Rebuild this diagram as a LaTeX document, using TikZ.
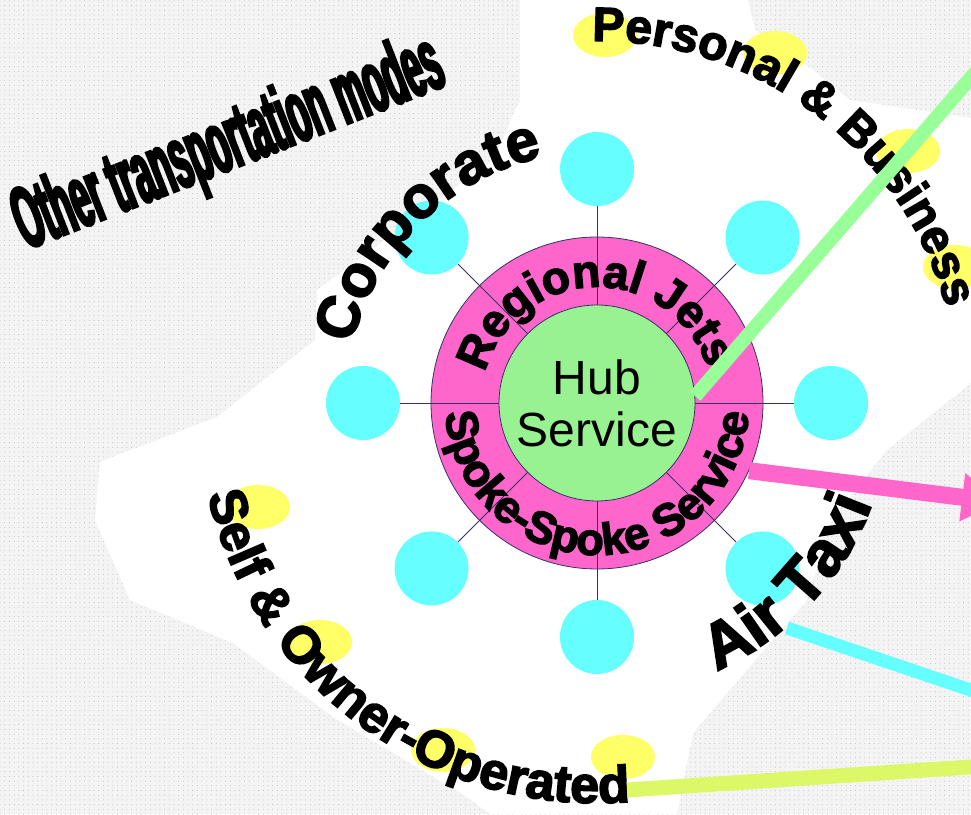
\documentclass[tikz,border=0pt]{standalone}
\usepackage{fontspec}
\setmainfont{Liberation Sans}
\newfontfamily\blackfont[FakeBold=3]{Liberation Sans Bold}
\newfontfamily\condfont[FakeStretch=0.39,FakeBold=3]{Liberation Sans Bold}
\usetikzlibrary{arrows.meta,decorations.text,patterns.meta}
\definecolor{bgx}{HTML}{F4F4F4}
\definecolor{dotx}{HTML}{C4C4C4}
\definecolor{pinkx}{HTML}{FF66CC}
\definecolor{hubx}{HTML}{99F291}
\definecolor{cyanx}{HTML}{66FFFF}
\definecolor{yellowx}{HTML}{FFFF66}
\definecolor{greenx}{HTML}{99FF99}
\definecolor{limex}{HTML}{DDF866}
\definecolor{navyx}{HTML}{333366}
\newcommand\bk[1]{\blackfont\fontsize{#1}{#1}\selectfont}
\tikzset{
  sat/.style={circle,fill=cyanx,minimum size=74pt,inner sep=0pt},
  spk/.style={navyx,line width=0.8pt},
  curvy/.style={decorate,decoration={text along path,text align=center,text={#1}}}
}

\begin{document}
\begin{tikzpicture}[x=1pt,y=1pt]
\useasboundingbox (0,0) rectangle (971,814);
\clip (0,0) rectangle (971,814);
\fill[bgx] (0,0) rectangle (971,814);
\fill[pattern={Dots[distance=4.7pt,radius=0.55pt]},pattern color=dotx] (0,0) rectangle (971,814);
\fill[white] (520,814) -- (520,714) -- (493,654) -- (317,524) -- (315,474) -- (217,397)
  -- (100,352) -- (95,294) -- (130,214) -- (233,171) -- (333,97) -- (467,17) -- (490,0)
  -- (677,0) -- (693,81) -- (747,144) -- (807,214) -- (833,297) -- (887,364) -- (971,431)
  -- (971,696) -- (850,714) -- (813,744) -- (755,784) -- (748,814) -- cycle;
\foreach \x/\y in {605/779,775/761,908/663,955/547,258/307,320/172,443/64,623/57}
  \fill[yellowx] (\x,\y) ellipse[x radius=32,y radius=22];
\coordinate (c) at (597,411);
\node[circle,fill=pinkx,draw=navyx,line width=0.8pt,minimum size=332pt] (ring) at (c) {};
\foreach \a in {0,45,...,315}{
  \node[sat] (s\a) at ([shift={(\a:234)}]c) {};
  \draw[spk] (ring.center) -- (s\a);
}
\node[circle,fill=hubx,draw=navyx,line width=0.8pt,minimum size=196pt,align=center,
  font=\fontsize{48}{52}\selectfont] (hub) at (c) {Hub\\Service};

\path[curvy={|\bk{46}|Regional Jets}] ([shift={(168:116)}]c) arc[start angle=168,end angle=14,radius=116];
\path[curvy={|\bk{45}|Spoke-Spoke Service}] ([shift={(182:152)}]c) arc[start angle=182,end angle=358,radius=152];
\path[curvy={|\bk{59}|Corporate}] ([shift={(168:252)}]c) arc[start angle=168,end angle=101,radius=252];
\path[curvy={|\bk{48}|Personal {\&} Business}] ([shift={(94:362)}]c) arc[start angle=94,end angle=12,radius=362];
\path[curvy={|\bk{52}|Self {\&} Owner-Operated}] ([shift={(190:400)}]c) arc[start angle=190,end angle=278,radius=400];
\path[curvy={|\bk{64}|Air Taxi}] ([shift={(-67:293)}]c) arc[start angle=-67,end angle=-19,radius=293];
\node[anchor=base west,rotate=21.4,inner sep=0pt,font=\condfont\fontsize{88}{88}\selectfont] (modes) at (26,564) {Other transportation modes};

\coordinate (gend) at (1000,770);
\coordinate (pend) at (1000,312);
\coordinate (airtaxi) at (787,186);
\coordinate (cend) at (1000,114);
\coordinate (selfop) at (627,24);
\coordinate (lend) at (1000,49);
\draw[greenx,line width=14pt] (hub.4) -- (gend);
\draw[pinkx,line width=17pt,-{Triangle[length=38pt,width=46pt]}] (ring.-24) -- (pend);
\draw[cyanx,line width=13pt] (airtaxi) -- (cend);
\draw[limex,line width=15pt] (selfop) -- (lend);
\end{tikzpicture}
\end{document}
